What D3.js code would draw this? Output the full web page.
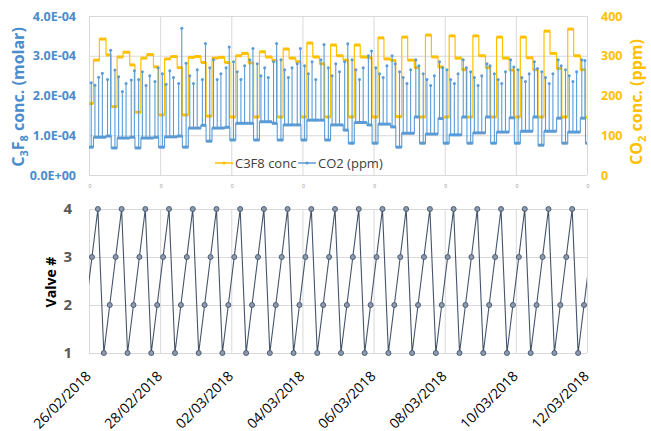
<!DOCTYPE html>
<html><head><meta charset="utf-8">
<script src="https://cdn.jsdelivr.net/npm/d3@7"></script>
<style>body{margin:0;background:#fff}svg{display:block;font-family:"Open Sans",sans-serif}</style>
</head><body><svg id="c" width="651" height="431"></svg>
<script>
// ---------- data ----------
const dateLabels = ["26/02/2018","28/02/2018","02/03/2018","04/03/2018","06/03/2018","08/03/2018","10/03/2018","12/03/2018"];
// 16-hour sampling cycles (hours after 26/02/2018 00:00)
const cycleHours = [0,16,32,48,64,80,96,112,128,144,160,176,192,208,224,240,256,272,288,304,320,336];
// C3F8 concentration (molar): low plateau and three high steps in each cycle
const c3f8Low   = [1.80e-4,1.72e-4,1.58e-4,1.51e-4,1.51e-4,1.48e-4,1.46e-4,1.46e-4,1.46e-4,1.46e-4,1.46e-4,1.46e-4,1.46e-4,1.47e-4,1.46e-4,1.46e-4,1.46e-4,1.46e-4,1.46e-4,1.46e-4,1.46e-4,1.45e-4];
const c3f8Step1 = [2.89e-4,2.97e-4,2.94e-4,2.92e-4,2.96e-4,2.94e-4,3.00e-4,3.10e-4,3.17e-4,3.32e-4,3.27e-4,3.27e-4,3.45e-4,3.47e-4,3.52e-4,3.50e-4,3.50e-4,3.47e-4,3.47e-4,3.62e-4,3.67e-4];
const c3f8Step2 = [3.42e-4,3.09e-4,3.03e-4,2.98e-4,2.98e-4,2.96e-4,3.06e-4,2.97e-4,2.94e-4,2.97e-4,3.00e-4,2.97e-4,2.92e-4,2.89e-4,2.97e-4,2.94e-4,3.00e-4,2.94e-4,2.95e-4,3.06e-4,3.00e-4];
const c3f8Step3 = [3.02e-4,2.77e-4,2.72e-4,2.70e-4,2.83e-4,2.83e-4,2.82e-4,2.88e-4,2.85e-4,2.80e-4,2.89e-4,2.95e-4,2.88e-4,2.70e-4,2.72e-4,2.65e-4,2.70e-4,2.64e-4,2.65e-4,2.68e-4,2.65e-4];
// CO2 (ppm): baseline levels in each cycle
const co2Low  = [70,68,68,70,70,85,88,88,88,88,88,80,80,70,80,80,80,80,80,75,80,80];
const co2Mid  = [95,93,93,96,118,118,130,134,126,138,126,132,128,105,103,101,106,108,110,110,108];
const co2High = [98,95,95,98,125,120,130,130,126,138,113,126,121,146,142,146,146,144,146,143,143];
// CO2 spikes: hour within cycle and peak value (ppm)
const co2SpikeOffsets = [1.5,4,6.5,9,12.5,14.6];
const co2SpikePeaks = [
 [232,226,246,256,240,314],[264,247,210,230,239,262],[240,260,225,250,235,270],[255,228,262,245,230,369],
 [281,250,230,265,240,331],[270,290,240,255,270,322],[285,260,240,275,290,318],[280,250,270,245,285,331],
 [290,265,245,270,280,318],[275,255,285,240,290,328],[270,250,280,260,285,330],[290,265,240,270,300,312],
 [270,255,245,275,300,280],[260,245,230,265,290,275],[255,240,225,250,285,270],[265,240,230,255,290,270],
 [260,245,225,250,280,275],[255,240,230,260,290,272],[265,245,235,255,285,268],[260,245,230,255,290,275],
 [265,250,235,260,290,288]];
// Valve number
const valveHours = [-2,2,6,10,14,18,22,26,30,34,38,42,46,50,54,58,62,66,70,74,78,82,86,90,94,98,102,106,110,114,118,122,126,130,134,138,142,146,150,154,158,162,166,170,174,178,182,186,190,194,198,202,206,210,214,218,222,226,230,234,238,242,246,250,254,258,262,266,270,274,278,282,286,290,294,298,302,306,310,314,318,322,326,330,334,338];
const valveValues = [2,3,4,1,2,3,4,1,2,3,4,1,2,3,4,1,2,3,4,1,2,3,4,1,2,3,4,1,2,3,4,1,2,3,4,1,2,3,4,1,2,3,4,1,2,3,4,1,2,3,4,1,2,3,4,1,2,3,4,1,2,3,4,1,2,3,4,1,2,3,4,1,2,3,4,1,2,3,4,1,2,3,4,1,2,3];
const molTickValues = [0,1e-4,2e-4,3e-4,4e-4];
const molTickLabels = ["0.0E+00","1.0E-04","2.0E-04","3.0E-04","4.0E-04"];
const ppmTicks = [0,100,200,300,400];
const valveTicks = [1,2,3,4];

// ---------- setup ----------
const ORANGE="#FFC000", BLUE="#5B9BD5", BLUE_TXT="#4A8CCD", GRID="#D9D9D9";
const svg = d3.select("#c");
const parse = d3.utcParse("%d/%m/%Y");
const dates = dateLabels.map(parse);
const t0 = dates[0];
const hr = h => new Date(t0.getTime() + h*3600e3);
const L=89, R=587, T1=16, B1=175, T2=209, B2=353;
const x = d3.scaleUtc().domain([dates[0], dates[dates.length-1]]).range([L,R]);
const yMol = d3.scaleLinear().domain([0,4e-4]).range([B1,T1]);
const yPpm = d3.scaleLinear().domain([0,400]).range([B1,T1]);
const yV = d3.scaleLinear().domain([1,4]).range([B2,T2]);

const defs = svg.append("defs");
defs.append("clipPath").attr("id","clipTop").append("rect").attr("x",L).attr("y",0).attr("width",R-L).attr("height",B1+2);
defs.append("clipPath").attr("id","clipBot").append("rect").attr("x",L).attr("y",T2-6).attr("width",R-L).attr("height",B2-T2+12);

function styleAxis(g){ g.select(".domain").remove(); g.selectAll(".tick line").attr("stroke",GRID); }

// ---------- top chart ----------
svg.append("g").attr("transform",`translate(0,${B1})`)
  .call(d3.axisBottom(x).tickValues(dates).tickSize(-(B1-T1)).tickFormat(()=>""))
  .call(styleAxis);
svg.append("g").attr("transform",`translate(${L},0)`)
  .call(d3.axisLeft(yMol).tickValues(molTickValues).tickSize(-(R-L)).tickPadding(13).tickFormat((d,i)=>molTickLabels[i]))
  .call(styleAxis)
  .call(g=>g.selectAll("text").attr("fill",BLUE_TXT).attr("font-weight","bold").attr("font-size","12.5px").attr("font-family","'Open Sans',sans-serif"));
svg.append("g").attr("transform",`translate(${R},0)`)
  .call(d3.axisRight(yPpm).tickValues(ppmTicks).tickSize(0).tickPadding(14))
  .call(g=>g.select(".domain").remove())
  .call(g=>g.selectAll("text").attr("fill",ORANGE).attr("font-weight","bold").attr("font-size","12.5px").attr("font-family","'Open Sans',sans-serif"));
// tiny clipped tick labels under the top chart
svg.append("g").selectAll("text").data(dates).join("text")
  .attr("x",d=>x(d)+1).attr("y",188).attr("font-size","5px").attr("fill","#8a8a8a").attr("text-anchor","middle").text("0");

// C3F8 series
const oPts=[], oSegs=[];
cycleHours.forEach((T,k)=>{
  oPts.push([T-1,c3f8Low[k]],[T+3,c3f8Low[k]]);
  oSegs.push([[T-1,c3f8Low[k]],[T+3,c3f8Low[k]]]);
  if(k<c3f8Step1.length){
    oPts.push([T+3,c3f8Step1[k]],[T+7,c3f8Step1[k]],[T+7,c3f8Step2[k]],[T+11.5,c3f8Step2[k]],[T+11.5,c3f8Step3[k]],[T+15,c3f8Step3[k]]);
    oSegs.push([[T+3,c3f8Step1[k]],[T+7,c3f8Step1[k]]],[[T+7,c3f8Step2[k]],[T+11.5,c3f8Step2[k]]],[[T+11.5,c3f8Step3[k]],[T+15,c3f8Step3[k]]]);
  }
});
const lineMol = d3.line().x(d=>x(hr(d[0]))).y(d=>yMol(d[1]));
const lineP = d3.line().x(d=>x(hr(d[0]))).y(d=>yPpm(d[1]));
const topG = svg.append("g").attr("clip-path","url(#clipTop)");
topG.append("path").attr("d",lineMol(oPts)).attr("fill","none").attr("stroke",ORANGE).attr("stroke-width",1.2);
topG.append("g").selectAll("path").data(oSegs).join("path").attr("d",lineMol).attr("fill","none").attr("stroke",ORANGE).attr("stroke-width",3);

// CO2 series
const bPts=[], bSegs=[], bPeaks=[];
cycleHours.forEach((T,k)=>{
  const segs = [[T-1,T+3,co2Low[k]]];
  if(k<co2Mid.length) segs.push([T+3,T+11.5,co2Mid[k]],[T+11.5,T+15,co2High[k]]);
  segs.forEach(([a,b,v])=>{
    bPts.push([a,v]);
    if(k<co2SpikePeaks.length) co2SpikeOffsets.forEach((o,j)=>{
      const t=T+o; if(t>a && t<b){ bPts.push([t,v],[t,co2SpikePeaks[k][j]],[t,v]); bPeaks.push([t,co2SpikePeaks[k][j]]); }
    });
    bPts.push([b,v]);
    bSegs.push([[a,v],[b,v]]);
  });
});
topG.append("path").attr("d",lineP(bPts)).attr("fill","none").attr("stroke",BLUE).attr("stroke-width",1.1);
topG.append("g").selectAll("path").data(bSegs).join("path").attr("d",lineP).attr("fill","none").attr("stroke",BLUE).attr("stroke-width",3);
topG.append("g").selectAll("circle").data(bPeaks).join("circle")
  .attr("cx",d=>x(hr(d[0]))).attr("cy",d=>yPpm(d[1])).attr("r",1.5).attr("fill",BLUE);

// axis titles
const lt = svg.append("text").attr("transform","translate(24,97) rotate(-90)").attr("text-anchor","middle")
  .attr("fill",BLUE_TXT).attr("font-weight","bold").attr("font-size","16px");
lt.append("tspan").text("C");
lt.append("tspan").attr("dy",4).attr("font-size","11px").text("3");
lt.append("tspan").attr("dy",-4).text("F");
lt.append("tspan").attr("dy",4).attr("font-size","11px").text("8");
lt.append("tspan").attr("dy",-4).text(" conc. (molar)");
const rt = svg.append("text").attr("transform","translate(642,102) rotate(-90)").attr("text-anchor","middle")
  .attr("fill",ORANGE).attr("font-weight","bold").attr("font-size","16px");
rt.append("tspan").text("CO");
rt.append("tspan").attr("dy",4).attr("font-size","11px").text("2");
rt.append("tspan").attr("dy",-4).text(" conc. (ppm)");

// legend
const leg = svg.append("g").attr("font-size","13px").attr("fill","#404040");
[[ORANGE,"C3F8 conc",215],[BLUE,"CO2 (ppm)",298]].forEach(([c,t,lx])=>{
  leg.append("line").attr("x1",lx).attr("x2",lx+18).attr("y1",163).attr("y2",163).attr("stroke",c).attr("stroke-width",1.5);
  leg.append("circle").attr("cx",lx+9).attr("cy",163).attr("r",1.6).attr("fill",c);
  leg.append("text").attr("x",lx+20).attr("y",167.5).text(t);
});

// ---------- bottom chart ----------
svg.append("g").attr("transform",`translate(0,${B2})`)
  .call(d3.axisBottom(x).tickValues(dates).tickSize(-(B2-T2)).tickFormat(()=>""))
  .call(styleAxis);
svg.append("g").attr("transform",`translate(${L},0)`)
  .call(d3.axisLeft(yV).tickValues(valveTicks).tickSize(-(R-L)).tickPadding(17).tickFormat(d3.format("d")))
  .call(styleAxis)
  .call(g=>g.selectAll("text").attr("fill","#595959").attr("font-weight","bold").attr("font-size","15px").attr("font-family","'Open Sans',sans-serif"));
svg.append("g").selectAll("text").data(dates).join("text")
  .attr("transform",d=>`translate(${x(d)+3},377) rotate(-45)`).attr("text-anchor","end")
  .attr("font-size","14px").attr("fill","#000").text(d=>d3.utcFormat("%d/%m/%Y")(d));
svg.append("text").attr("transform","translate(56,282) rotate(-90)").attr("text-anchor","middle")
  .attr("font-weight","bold").attr("font-size","14px").attr("fill","#000").text("Valve #");

const vData = valveHours.map((h,i)=>[h,valveValues[i]]);
const bot = svg.append("g").attr("clip-path","url(#clipBot)");
bot.append("path").attr("d",d3.line().x(d=>x(hr(d[0]))).y(d=>yV(d[1]))(vData))
  .attr("fill","none").attr("stroke","#44546A").attr("stroke-width",1.1);
bot.append("g").selectAll("circle").data(vData).join("circle")
  .attr("cx",d=>x(hr(d[0]))).attr("cy",d=>yV(d[1])).attr("r",2.5)
  .attr("fill","#8C9BB0").attr("stroke","#44546A").attr("stroke-width",0.9);
</script></body></html>
